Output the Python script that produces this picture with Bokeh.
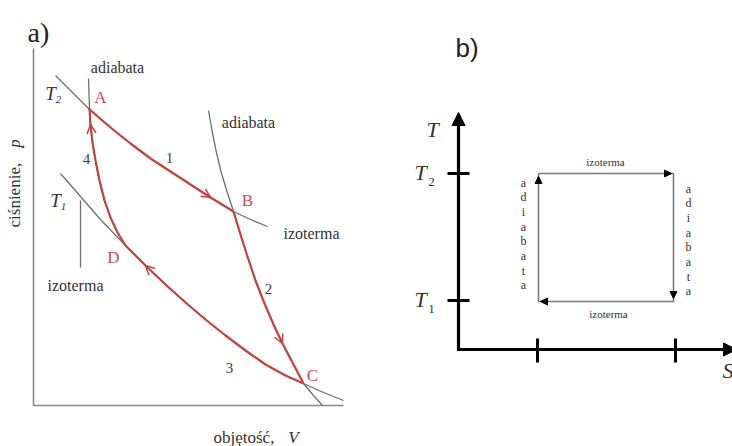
import math
from bokeh.plotting import figure
from bokeh.models import Range1d, Arrow, OpenHead, NormalHead
from bokeh.core.properties import value
from bokeh.embed import file_html
from bokeh.resources import INLINE

# ---------------- panel a) p-V diagram (values read from the picture) ----------------
# hot isotherm (T2): A -> B
iso_hot_V = [55, 70, 88, 110, 130, 150, 170, 190, 210, 233, 250, 267]
iso_hot_p = [75, 90, 108, 127, 143, 158, 171, 184, 197, 211, 219, 226]
# cold isotherm (T1): D -> C
iso_cold_V = [60, 80, 100, 125, 145, 165, 185, 205, 225, 245, 265, 285, 303, 323, 343]
iso_cold_p = [173, 196, 219, 245, 265, 284, 302, 319, 335, 350, 364, 375, 383, 392, 400]
# left adiabat: A -> D
adiab1_V = [88, 89, 90, 92, 95, 99, 104, 110, 117, 125]
adiab1_p = [78, 108, 124, 142, 160, 180, 200, 217, 232, 245]
# right adiabat: B -> C
adiab2_V = [208, 211.5, 215.5, 220.5, 226.5, 233, 240, 247, 255, 264, 273, 282, 292, 303, 313, 322]
adiab2_p = [110, 130, 150, 171, 191, 211, 234, 256, 280, 303, 324, 343, 362, 383, 395, 405]

state_names = ["A", "B", "C", "D"]
# index of each state on its curve
A_i_hot, B_i_hot = 2, 9
D_i_cold, C_i_cold = 3, 12
A_i_ad1, D_i_ad1 = 1, 9
B_i_ad2, C_i_ad2 = 5, 13

step_labels = ["1", "2", "3", "4"]

# ---------------- panel b) T-S diagram ----------------
T_levels = [300, 173]          # T1, T2
S_levels = [537, 675]          # S1, S2

RED = "#c4423f"
RED_TXT = "#cf4a52"
GREY = "#6e6e6e"
TXT = "#333333"
SERIF = value("Liberation Serif")
SANS = value("Liberation Sans")

p = figure(width=732, height=446, x_range=Range1d(0, 732), y_range=Range1d(446, 0),
           output_backend="svg", toolbar_location=None, min_border=0)
p.axis.visible = False
p.grid.visible = False
p.outline_line_color = None
p.background_fill_color = "white"
p.border_fill_color = "white"

# axes of panel a
p.line(x=[33, 33, 343], y=[48, 405, 405], line_color="#8a8a8a", line_width=1.6)

# grey full curves
for cv, cp in [(iso_hot_V, iso_hot_p), (iso_cold_V, iso_cold_p), (adiab1_V, adiab1_p), (adiab2_V, adiab2_p)]:
    p.line(x=cv, y=cp, line_color=GREY, line_width=1.3, line_join="round")

# red cycle
for cv, cp, i0, i1 in [(iso_hot_V, iso_hot_p, A_i_hot, B_i_hot),
                       (adiab2_V, adiab2_p, B_i_ad2, C_i_ad2),
                       (iso_cold_V, iso_cold_p, D_i_cold, C_i_cold),
                       (adiab1_V, adiab1_p, A_i_ad1, D_i_ad1)]:
    p.line(x=cv[i0:i1 + 1], y=cp[i0:i1 + 1], line_color=RED, line_width=2.2, line_join="round")

# direction arrows (from point i to point j of a curve)
for (cv, cp, i, j) in [(iso_hot_V, iso_hot_p, 7, 8), (adiab2_V, adiab2_p, 10, 11),
                       (iso_cold_V, iso_cold_p, 5, 4), (adiab1_V, adiab1_p, 3, 2)]:
    p.add_layout(Arrow(end=OpenHead(size=9, line_color=RED, line_width=1.5),
                       x_start=cv[i], y_start=cp[i], x_end=cv[j], y_end=cp[j],
                       line_alpha=0))

# short vertical marker line near the lower isotherm label
p.line(x=[80, 80], y=[200, 267], line_color=GREY, line_width=1.3)

# state labels
p.text(x=[iso_hot_V[A_i_hot] + 12, iso_hot_V[B_i_hot] + 14, iso_cold_V[C_i_cold] + 9, iso_cold_V[D_i_cold] - 12],
       y=[iso_hot_p[A_i_hot] - 11, iso_hot_p[B_i_hot] - 11, iso_cold_p[C_i_cold] - 8, iso_cold_p[D_i_cold] + 12],
       text=state_names, text_font=SERIF, text_font_size="17px", text_color=RED_TXT,
       text_align="center", text_baseline="middle")
# step numbers
p.text(x=[169, 268, 229, 86], y=[157, 288, 367, 158], text=step_labels, text_font=SERIF,
       text_font_size="15px", text_color="#3a3a4a", text_align="center", text_baseline="middle")

# curve names
p.text(x=[117, 248, 311, 75], y=[67, 122, 233, 285],
       text=["adiabata", "adiabata", "izoterma", "izoterma"], text_font=SERIF,
       text_font_size="16px", text_color=TXT, text_align="center", text_baseline="middle")

# temperature labels on panel a
p.text(x=[50, 55], y=[93, 200], text=["T", "T"], text_font=SERIF, text_font_style="italic",
       text_font_size="19px", text_color=TXT, text_align="center", text_baseline="middle")
p.text(x=[58, 63], y=[99, 206], text=["2", "1"], text_font=SERIF, text_font_style="italic",
       text_font_size="11px", text_color=TXT, text_align="center", text_baseline="middle")

# axis titles panel a
p.text(x=[14], y=[227], text=["ciśnienie,"], angle=math.pi / 2, text_font=SERIF,
       text_font_size="17px", text_color=TXT, text_align="left", text_baseline="middle")
p.text(x=[14], y=[143], text=["p"], angle=math.pi / 2, text_font=SERIF, text_font_style="italic",
       text_font_size="17px", text_color=TXT, text_align="center", text_baseline="middle")
p.text(x=[213], y=[437], text=["objętość,"], text_font=SERIF,
       text_font_size="17px", text_color=TXT, text_align="left", text_baseline="middle")
p.text(x=[293], y=[437], text=["V"], text_font=SERIF, text_font_style="italic",
       text_font_size="17px", text_color=TXT, text_align="center", text_baseline="middle")

# panel titles
p.text(x=[27], y=[32], text=["a)"], text_font=SERIF, text_font_size="28px",
       text_color="#222222", text_align="left", text_baseline="alphabetic")
p.text(x=[455], y=[47], text=["b)"], text_font=SANS, text_font_size="26px",
       text_color="#222222", text_align="left", text_baseline="alphabetic")

# ---------------- panel b drawing ----------------
X0, Y0 = 458, 349
p.add_layout(Arrow(end=NormalHead(size=13, fill_color="black", line_color="black"),
                   x_start=X0, y_start=Y0 + 1.5, x_end=X0, y_end=112, line_width=3.2, line_color="black"))
p.add_layout(Arrow(end=NormalHead(size=13, fill_color="black", line_color="black"),
                   x_start=X0 - 1.5, y_start=Y0, x_end=736, y_end=Y0, line_width=3.2, line_color="black"))
# ticks
p.segment(x0=[447, 447], y0=T_levels, x1=[469, 469], y1=T_levels, line_color="black", line_width=3)
p.segment(x0=S_levels, y0=[338, 338], x1=S_levels, y1=[362, 362], line_color="black", line_width=3)

# cycle rectangle (grey) with black arrowheads
S1, S2 = S_levels[0] + 1, S_levels[1] - 2
T1, T2 = T_levels[0] + 1, T_levels[1]
p.line(x=[S1, S2, S2, S1, S1], y=[T2, T2, T1, T1, T2], line_color="#7a7a7a", line_width=1.6)
small = dict(size=7, fill_color="black", line_color="black")
p.add_layout(Arrow(end=NormalHead(**small), x_start=S1, y_start=T2, x_end=S2 - 2, y_end=T2, line_alpha=0))
p.add_layout(Arrow(end=NormalHead(**small), x_start=S2, y_start=T2, x_end=S2, y_end=T1 - 3, line_alpha=0))
p.add_layout(Arrow(end=NormalHead(**small), x_start=S2, y_start=T1, x_end=S1 + 2, y_end=T1, line_alpha=0))
p.add_layout(Arrow(end=NormalHead(**small), x_start=S1, y_start=T1, x_end=S1, y_end=T2 + 3, line_alpha=0))

p.text(x=[605, 608], y=[161, 313], text=["izoterma", "izoterma"], text_font=SERIF,
       text_font_size="11px", text_color=TXT, text_align="center", text_baseline="middle")
letters = list("adiabata")
for xc, ytop in [(523, 182), (688, 188)]:
    p.text(x=[xc] * len(letters), y=[ytop + 14.7 * k for k in range(len(letters))], text=letters,
           text_font=SERIF, text_font_size="12px", text_color=TXT,
           text_align="center", text_baseline="middle")

# axis labels panel b
p.text(x=[432, 420, 420], y=[129, 172, 299], text=["T", "T", "T"], text_font=SERIF,
       text_font_style="italic", text_font_size="22px", text_color=TXT,
       text_align="center", text_baseline="middle")
p.text(x=[431, 431], y=[181, 308], text=["2", "1"], text_font=SERIF,
       text_font_size="13px", text_color=TXT, text_align="center", text_baseline="middle")
p.text(x=[722], y=[370], text=["S"], text_font=SERIF, text_font_style="italic",
       text_font_size="22px", text_color=TXT, text_align="left", text_baseline="middle")

open("out.html", "w").write(file_html(p, INLINE))
